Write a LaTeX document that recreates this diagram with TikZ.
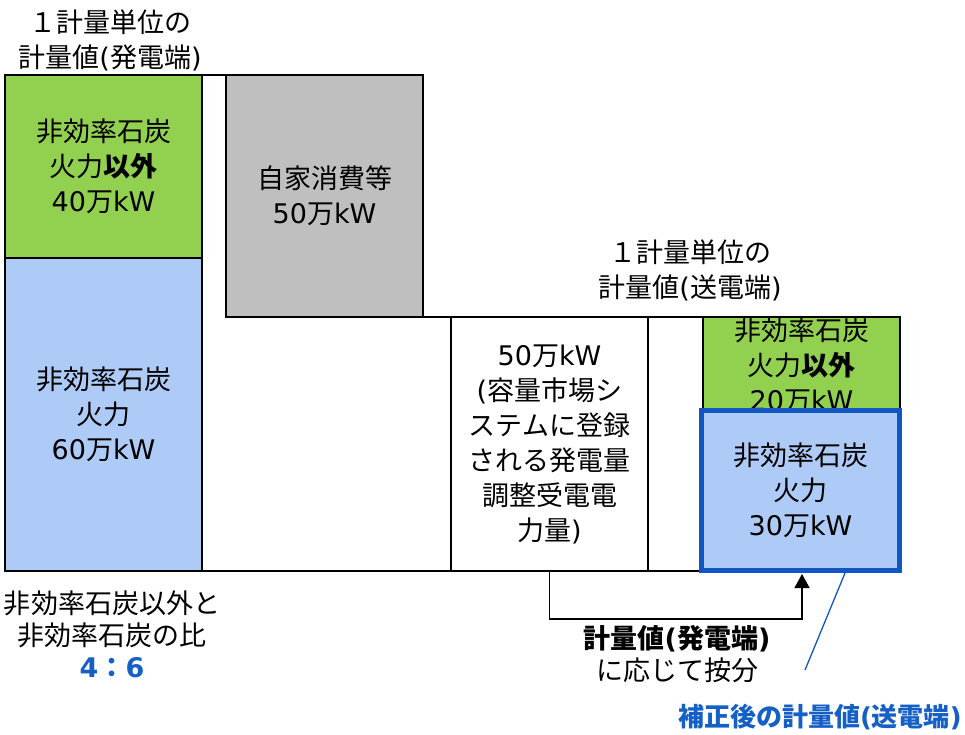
\documentclass[tikz,border=0pt]{standalone}
\usepackage{fontspec}
\setmainfont{Noto Sans CJK JP}
\newfontfamily\latfont{DejaVu Sans}
\newcommand\Lt[1]{{\latfont #1}}
\usetikzlibrary{arrows.meta}
\definecolor{fgreen}{HTML}{92D050}
\definecolor{fblue}{HTML}{AECAF6}
\definecolor{fgray}{HTML}{BFBFBF}
\definecolor{eblue}{HTML}{1256C4}
\definecolor{tblue}{HTML}{1560C6}
\tikzset{
  box/.style={draw=black, line width=1.5pt, inner sep=0pt, outer sep=0pt, align=center, anchor=center,
    font=\fontsize{27}{35}\selectfont},
  lbl/.style={align=center, inner sep=0pt, font=\fontsize{27}{35}\selectfont},
  rule/.style={draw=black, line width=1.5pt},
  arr/.style={draw=black, line width=1.5pt, -{Triangle[length=14pt,width=15pt]}},
}
\begin{document}
\begin{tikzpicture}[x=1pt,y=-1pt]
\useasboundingbox (0,0) rectangle (965,734);
% outline rules
\coordinate (topL) at (5,75);
\coordinate (topR) at (423,75);
\coordinate (midL) at (423,317);
\coordinate (midR) at (900,317);
\coordinate (botL) at (5,571);
\coordinate (botR) at (900,571);
\draw[rule] (topL) -- (topR);
\draw[rule] (midL) -- (midR);
\draw[rule] (botL) -- (botR);
% left column
\node[box, fill=fgreen, minimum width=197pt, minimum height=183pt] (lg) at (103.5,166.5)
  {非効率石炭\\火力\textbf{以外}\\\Lt{40}万\Lt{kW}};
\node[box, fill=fblue, minimum width=197pt, minimum height=313pt] (lb) at (103.5,414.5)
  {非効率石炭\\火力\\\Lt{60}万\Lt{kW}};
% gray
\node[box, fill=fgray, minimum width=197pt, minimum height=242pt] (gy) at (324.5,196)
  {自家消費等\\\Lt{50}万\Lt{kW}};
% white
\node[box, fill=white, minimum width=197pt, minimum height=254pt] (wb) at (549.5,444)
  {\Lt{50}万\Lt{kW}\\\Lt{(}容量市場シ\\ステムに登録\\される発電量\\調整受電電\\力量\Lt{)}};
% right green (text clipped)
\node[box, fill=fgreen, minimum width=197pt, minimum height=93pt] (rg) at (801.5,363.5) {};
\begin{scope}
  \clip (rg.north west) rectangle (rg.south east);
  \node[lbl] (rgt) at (801.5,365) {非効率石炭\\火力\textbf{以外}\\\Lt{20}万\Lt{kW}};
\end{scope}
\draw[rule] (rg.north west) rectangle (rg.south east);
% right blue
\node[box, draw=eblue, line width=5pt, fill=fblue, minimum width=198pt, minimum height=160pt] (rb) at (800.5,490.5)
  {非効率石炭\\火力\\\Lt{30}万\Lt{kW}};
% labels
\node[lbl] (t1) at (110,40) {１計量単位の\\計量値\Lt{(}発電端\Lt{)}};
\node[lbl] (t2) at (690,270) {１計量単位の\\計量値\Lt{(}送電端\Lt{)}};
\node[lbl, font=\fontsize{27}{32}\selectfont] (t3) at (112,634)
  {非効率石炭以外と\\非効率石炭の比\\{\color{tblue}\bfseries\Lt{4}：\Lt{6}}};
\node[lbl, font=\fontsize{27}{32}\selectfont] (t4) at (677,654)
  {\textbf{計量値\Lt{(}発電端\Lt{)}}\\に応じて按分};
\node[lbl, text=tblue, font=\fontsize{26}{32}\bfseries\selectfont, anchor=east] (t5) at (962,717)
  {補正後の計量値\Lt{(}送電端\Lt{)}};
% arrow
\coordinate (arrtip) at (802,574);
\draw[arr] (wb.south) -- ++(0,48) -| (arrtip);
% callout
\coordinate (cA) at (845,573);
\coordinate (cB) at (805,670);
\draw[eblue, line width=1.3pt] (cA) -- (cB);
\end{tikzpicture}
\end{document}
